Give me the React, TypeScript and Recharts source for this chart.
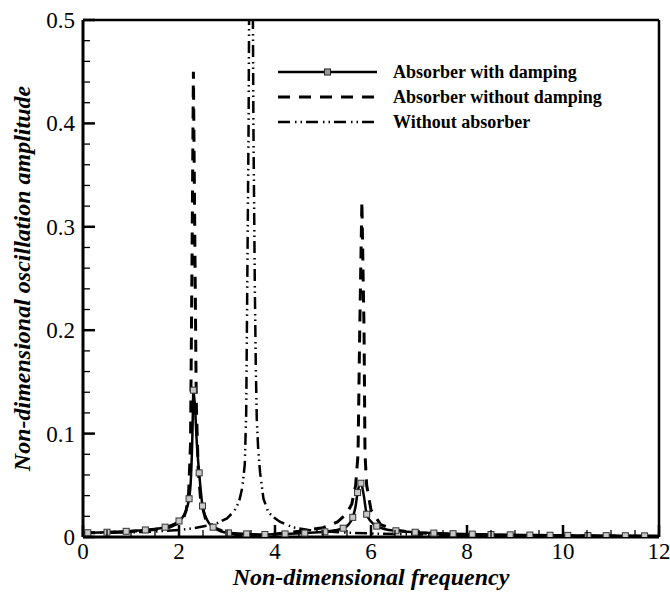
import React from 'react';
import { LineChart, Line, XAxis, YAxis, ReferenceLine, Legend } from 'recharts';

const FONT = 'Liberation Serif, Times New Roman, Times, serif';

const xTicks = [0, 0.5, 1, 1.5, 2, 2.5, 3, 3.5, 4, 4.5, 5, 5.5, 6, 6.5, 7, 7.5, 8, 8.5, 9, 9.5, 10, 10.5, 11, 11.5, 12];
const yTicks = [0, 0.02, 0.04, 0.06, 0.08, 0.1, 0.12, 0.14, 0.16, 0.18, 0.2, 0.22, 0.24, 0.26, 0.28, 0.3, 0.32, 0.34, 0.36, 0.38, 0.4, 0.42, 0.44, 0.46, 0.48, 0.5];

const seriesNames = ['Absorber with damping', 'Absorber without damping', 'Without absorber'];

const dampedPoints: [number, number][] = [
  [0, 0.004], [0.1, 0.0041], [0.5, 0.0046], [0.9, 0.0055], [1.3, 0.0068], [1.71, 0.0095], [2.0, 0.0155],
  [2.1, 0.021], [2.21, 0.037], [2.25, 0.058], [2.28, 0.1], [2.3, 0.142], [2.33, 0.128], [2.37, 0.092],
  [2.42, 0.062], [2.49, 0.03], [2.58, 0.017], [2.71, 0.0095], [3.03, 0.004], [3.41, 0.003], [3.79, 0.0025],
  [4.21, 0.003], [4.62, 0.0038], [5.04, 0.005], [5.25, 0.0065], [5.42, 0.0085], [5.53, 0.012], [5.62, 0.019],
  [5.68, 0.03], [5.72, 0.043], [5.79, 0.052], [5.85, 0.04], [5.91, 0.022], [6.0, 0.015], [6.12, 0.0105],
  [6.3, 0.0075], [6.52, 0.006], [6.92, 0.0046], [7.31, 0.0038], [7.71, 0.0032], [8.11, 0.0028], [8.5, 0.0024],
  [8.9, 0.0021], [9.31, 0.0019], [9.73, 0.0017], [10.1, 0.0016], [10.52, 0.0014], [10.9, 0.0013], [11.3, 0.0012],
  [11.7, 0.0011], [12, 0.001],
];

const dampedMarkerX = [0.1, 0.5, 0.9, 1.3, 1.71, 2.0, 2.21, 2.3, 2.42, 2.49, 2.71, 3.03, 3.41, 3.79, 4.21, 4.62,
  5.04, 5.42, 5.62, 5.72, 5.79, 5.91, 6.12, 6.52, 6.92, 7.31, 7.71, 8.11, 8.5, 8.9, 9.31, 9.73, 10.1, 10.52, 10.9,
  11.3, 11.7];

const undampedPoints: [number, number][] = [
  [0, 0.004], [0.5, 0.0044], [1.0, 0.0053], [1.5, 0.0072], [1.8, 0.0095], [2.0, 0.0135], [2.1, 0.019],
  [2.15, 0.026], [2.2, 0.042], [2.24, 0.09], [2.27, 0.26], [2.3, 0.45], [2.335, 0.26], [2.36, 0.13], [2.4, 0.065],
  [2.45, 0.036], [2.55, 0.018], [2.7, 0.0095], [3.0, 0.004], [3.3, 0.0013], [3.5, 0.0002], [3.7, 0.0012],
  [4.0, 0.0028], [4.5, 0.0055], [5.0, 0.009], [5.3, 0.0145], [5.5, 0.023], [5.6, 0.032], [5.68, 0.05],
  [5.73, 0.08], [5.765, 0.2], [5.81, 0.325], [5.855, 0.2], [5.875, 0.08], [5.91, 0.05], [6.0, 0.026],
  [6.2, 0.012], [6.5, 0.0068], [7.0, 0.0038], [8.0, 0.0021], [9.0, 0.0015], [10.0, 0.0011], [11.0, 0.0009],
  [12.0, 0.0007],
];

const noAbsorberPoints: [number, number][] = [
  [0, 0.004], [0.5, 0.0041], [1.0, 0.0045], [1.5, 0.0053], [2.0, 0.0068], [2.3, 0.0085], [2.6, 0.011],
  [2.8, 0.0135], [3.0, 0.018], [3.15, 0.025], [3.25, 0.034], [3.32, 0.048], [3.37, 0.07], [3.4, 0.12],
  [3.42, 0.23], [3.45, 0.4], [3.48, 0.7], [3.5, 1.0], [3.52, 0.7], [3.55, 0.4], [3.58, 0.24], [3.6, 0.165],
  [3.62, 0.115], [3.65, 0.085], [3.69, 0.062], [3.76, 0.037], [3.86, 0.024], [4.0, 0.018], [4.1, 0.0148],
  [4.38, 0.0092], [4.7, 0.0068], [5.0, 0.0055], [5.5, 0.0042], [6.0, 0.0034], [7.0, 0.0024], [8.0, 0.0018],
  [9.0, 0.0014], [10.0, 0.0011], [11.0, 0.0009], [12.0, 0.0008],
];

const toRows = (pts: [number, number][]) => pts.map(([x, y]) => ({ x, y }));
const dampedRows = toRows(dampedPoints);
const undampedRows = toRows(undampedPoints);
const noAbsorberRows = toRows(noAbsorberPoints);
const markerSet = new Set(dampedMarkerX);

const DASHED = '12 9';
const DASH_DOT_DOT = '12 5 1.5 4 1.5 4';

const txt = (size: number, bold = false, italic = false): React.CSSProperties => ({
  fontFamily: FONT,
  fontSize: size,
  fontWeight: bold ? 'bold' : 'normal',
  fontStyle: italic ? 'italic' : 'normal',
});

const YTick = (props: any) => {
  const { x, y, payload } = props;
  const v = payload.value as number;
  const major = Math.abs(v * 10 - Math.round(v * 10)) < 1e-6;
  const ax = x + 8;
  return (
    <g>
      <line x1={ax} x2={ax + (major ? 12 : 7)} y1={y} y2={y} stroke="#000" strokeWidth={major ? 2.5 : 1.3} />
      {major && (
        <text x={x} y={y} dy="0.35em" textAnchor="end" style={txt(23)} fill="#000">
          {v === 0 ? '0' : v.toFixed(1)}
        </text>
      )}
    </g>
  );
};

const XTick = (props: any) => {
  const { x, y, payload } = props;
  const v = payload.value as number;
  const major = v % 2 === 0;
  const ay = y - 6;
  return (
    <g>
      <line x1={x} x2={x} y1={ay} y2={ay - (major ? 12 : 7)} stroke="#000" strokeWidth={major ? 2.5 : 1.3} />
      {major && (
        <text x={x} y={y} dy="0.71em" textAnchor="middle" style={txt(23)} fill="#000">
          {String(v)}
        </text>
      )}
    </g>
  );
};

const XTitle = (props: any) => {
  const vb = props.viewBox || {};
  return (
    <text x={vb.x + vb.width / 2} y={vb.y + 48} textAnchor="middle" style={txt(24, true, true)} fill="#000">
      Non-dimensional frequency
    </text>
  );
};

const YTitle = (props: any) => {
  const vb = props.viewBox || {};
  const cx = vb.x + vb.width - 61;
  const cy = vb.y + vb.height / 2;
  return (
    <text x={cx} y={cy} transform={`rotate(-90 ${cx} ${cy})`} textAnchor="middle" dominantBaseline="central"
      style={txt(24, true, true)} fill="#000">
      Non-dimensional oscillation amplitude
    </text>
  );
};

const legendStyles = [
  { dash: undefined as string | undefined, width: 2.5, marker: true },
  { dash: DASHED, width: 3, marker: false },
  { dash: DASH_DOT_DOT, width: 2.5, marker: false },
];

const LegendBox = () => (
  <svg width={340} height={80} style={{ display: 'block' }}>
    {seriesNames.map((n, i) => {
      const cy = 12 + i * 25;
      const s = legendStyles[i];
      return (
        <g key={n}>
          <line x1={8} x2={107} y1={cy} y2={cy} stroke="#000" strokeWidth={s.width} strokeDasharray={s.dash} />
          {s.marker && <rect x={54.5} y={cy - 3} width={6} height={6} fill="#999" stroke="#222" strokeWidth={1} />}
          <text x={123} y={cy} dy="0.35em" style={txt(18, true)} fill="#000">{n}</text>
        </g>
      );
    })}
  </svg>
);

const renderMarker = (p: any) => {
  if (p && p.payload && markerSet.has(p.payload.x)) {
    return <rect key={`m${p.index}`} x={p.cx - 3} y={p.cy - 3} width={6} height={6} fill="#c8c8c8" stroke="#333" strokeWidth={1} />;
  }
  return <g key={`n${p.index}`} />;
};

export default function App() {
  return (
    <div style={{ position: 'absolute', left: 0, top: 0, width: 670, height: 593, background: '#fff' }}>
      <LineChart width={670} height={593} margin={{ top: 20, right: 11, bottom: 55, left: 82 }}>
        <XAxis type="number" dataKey="x" domain={[0, 12]} ticks={xTicks} interval={0} allowDataOverflow
          height={1} tickSize={0} tickMargin={6} tickLine={false} tick={<XTick />}
          axisLine={{ stroke: '#000', strokeWidth: 3 }} label={<XTitle />} />
        <YAxis type="number" domain={[0, 0.5]} ticks={yTicks} interval={0} allowDataOverflow
          width={1} tickSize={0} tickMargin={8} tickLine={false} tick={<YTick />}
          axisLine={{ stroke: '#000', strokeWidth: 3 }} label={<YTitle />} />
        <ReferenceLine y={0.5} stroke="#000" strokeWidth={2.5} />
        <ReferenceLine x={12} stroke="#000" strokeWidth={2.5} />
        <Legend verticalAlign="middle" align="center" layout="horizontal" content={<LegendBox />}
          wrapperStyle={{ position: 'absolute', left: 270, top: 60, width: 340, height: 80 }} />
        <Line data={noAbsorberRows} dataKey="y" name={seriesNames[2]} type="linear" stroke="#000" strokeWidth={2.5}
          strokeDasharray={DASH_DOT_DOT} dot={false} isAnimationActive={false} />
        <Line data={undampedRows} dataKey="y" name={seriesNames[1]} type="linear" stroke="#000" strokeWidth={3}
          strokeDasharray={DASHED} dot={false} isAnimationActive={false} />
        <Line data={dampedRows} dataKey="y" name={seriesNames[0]} type="monotone" stroke="#000" strokeWidth={2.5}
          dot={renderMarker} isAnimationActive={false} />
      </LineChart>
    </div>
  );
}
